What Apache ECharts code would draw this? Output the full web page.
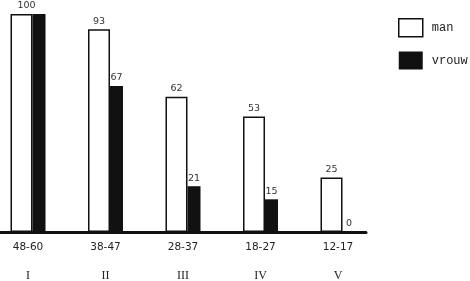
<!DOCTYPE html>
<html>
<head>
<meta charset="utf-8">
<script src="https://cdn.jsdelivr.net/npm/echarts@6/dist/echarts.min.js"></script>
<style>html,body{margin:0;padding:0;background:#fff}#c{width:470px;height:281px}</style>
</head>
<body>
<div id="c"></div>
<script>
const ageGroups = ['48-60', '38-47', '28-37', '18-27', '12-17'];
const romanLabels = ['I', 'II', 'III', 'IV', 'V'];
const manValues = [100, 93, 62, 53, 25];
const vrouwValues = [100, 67, 21, 15, 0];

const chart = echarts.init(document.getElementById('c'), null, {renderer: 'canvas'});
const categories = ageGroups.map((a, i) => a + '|' + romanLabels[i]);

chart.setOption({
  animation: false,
  backgroundColor: '#fff',
  legend: {
    orient: 'vertical',
    left: 393,
    top: 13,
    itemWidth: 24,
    itemHeight: 18,
    itemGap: 14,
    icon: 'rect',
    textStyle: {fontFamily: 'Liberation Mono', fontSize: 12, color: '#222', padding: [0, 0, 0, 4]},
    data: [
      {name: 'man', itemStyle: {color: '#fff', borderColor: '#111', borderWidth: 1.5}},
      {name: 'vrouw', itemStyle: {color: '#111'}}
    ]
  },
  grid: [
    {left: -10.75, right: 93.25, top: 14, bottom: 49, outerBoundsMode: 'none'},
    {left: 0, width: 366, top: 14, bottom: 49, outerBoundsMode: 'none'}
  ],
  xAxis: [
    {
      type: 'category',
      gridIndex: 0,
      data: categories,
      axisLine: {show: false},
      axisTick: {show: false},
      axisLabel: {
        margin: 4,
        interval: 0,
        formatter: v => { const p = v.split('|'); return '{a|' + p[0] + '}\n{b|' + p[1] + '}'; },
        rich: {
          a: {fontFamily: 'DejaVu Sans', fontSize: 10.5, color: '#222', lineHeight: 22},
          b: {fontFamily: 'Liberation Serif', fontSize: 12, color: '#222', lineHeight: 36}
        }
      }
    },
    {
      type: 'value',
      gridIndex: 1,
      min: 0,
      max: 1,
      axisLine: {show: true, onZero: false, lineStyle: {color: '#111', width: 3}},
      axisTick: {show: false},
      axisLabel: {show: false},
      splitLine: {show: false}
    }
  ],
  yAxis: [
    {type: 'value', gridIndex: 0, min: 0, max: 100, show: false},
    {type: 'value', gridIndex: 1, min: 0, max: 1, show: false}
  ],
  series: [
    {
      name: 'man',
      type: 'bar',
      xAxisIndex: 0,
      yAxisIndex: 0,
      barWidth: 22,
      barGap: '0%',
      itemStyle: {color: '#fff', borderColor: '#111', borderWidth: 1.5},
      label: {show: true, position: 'top', distance: 3, fontFamily: 'DejaVu Sans', fontSize: 9.5, color: '#333'},
      data: manValues.map((v, i) => i === 0 ? {value: v, label: {offset: [5, 0]}} : v)
    },
    {
      name: 'vrouw',
      type: 'bar',
      xAxisIndex: 0,
      yAxisIndex: 0,
      barWidth: 13,
      barGap: '0%',
      itemStyle: {color: '#111'},
      label: {show: true, position: 'top', distance: 3, fontFamily: 'DejaVu Sans', fontSize: 9.5, color: '#333'},
      data: vrouwValues.map((v, i) => i === 0 ? {value: v, label: {show: false}} : v)
    }
  ]
});
</script>
</body>
</html>
